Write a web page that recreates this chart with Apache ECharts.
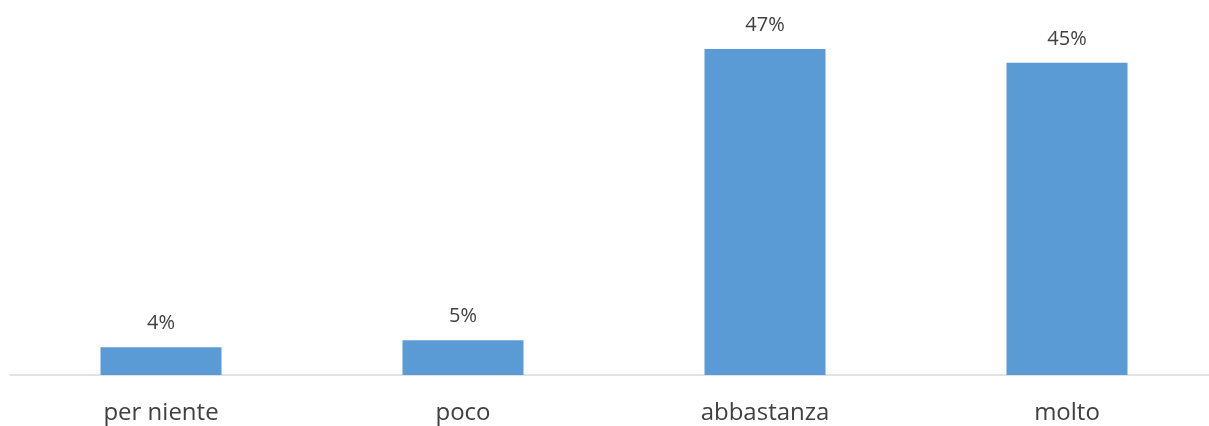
<!DOCTYPE html>
<html><head><meta charset="utf-8">
<script src="https://cdn.jsdelivr.net/npm/echarts@6/dist/echarts.min.js"></script>
<style>html,body{margin:0;padding:0;background:#fff;overflow:hidden}#c{width:1218px;height:426px}</style>
</head><body><div id="c"></div>
<script>
const categories = ['per niente', 'poco', 'abbastanza', 'molto'];
const values = [4, 5, 47, 45];
const chart = echarts.init(document.getElementById('c'), null, {renderer: 'canvas'});
chart.setOption({
  animation: false,
  grid: {left: 10, right: 0, top: 49, bottom: 51, containLabel: false},
  xAxis: {
    type: 'category', data: categories,
    axisLine: {lineStyle: {color: '#d9d9d9', width: 1.5}},
    axisTick: {show: false},
    axisLabel: {color: '#404040', fontFamily: 'Open Sans', fontSize: 24, margin: 26}
  },
  yAxis: {type: 'value', min: 0, max: 47, show: false, splitLine: {show: false}},
  series: [{
    type: 'bar', data: values, barWidth: 121,
    itemStyle: {color: '#5b9bd5'},
    label: {show: true, position: 'top', distance: 14, formatter: '{c}%', color: '#404040', fontFamily: 'Open Sans', fontSize: 20}
  }]
});
</script></body></html>
